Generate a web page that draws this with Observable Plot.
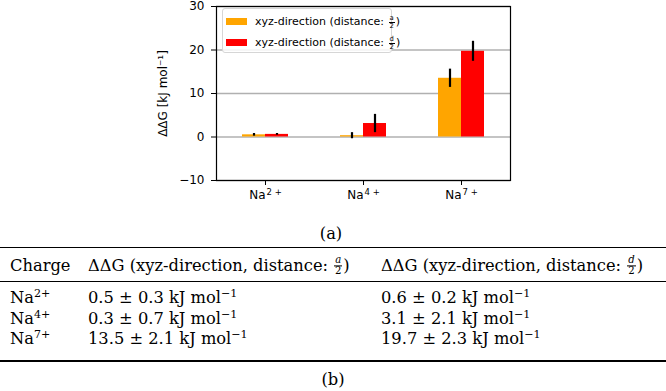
<!DOCTYPE html>
<html>
<head>
<meta charset="utf-8">
<script src="https://cdn.jsdelivr.net/npm/d3@7"></script>
<script src="https://cdn.jsdelivr.net/npm/@observablehq/plot@0.6"></script>
<style>
  html, body { margin: 0; padding: 0; background: #fff; }
  #wrap { position: relative; width: 666px; height: 391px; overflow: hidden; }
  #chart { position: absolute; left: 0; top: 0; }
  .legend { position: absolute; left: 222px; top: 8px; width: 170px; height: 45px; box-sizing: border-box;
    border: 1px solid #d6d6d6; border-radius: 3px; background: rgba(255,255,255,0.85);
    font-family: "DejaVu Sans", sans-serif; font-size: 11px; color: #000; }
  .legend .item { position: absolute; left: 3px; height: 14px; line-height: 14px; white-space: nowrap; }
  .legend .sw { display: inline-block; width: 21px; height: 7px; margin-right: 8px; vertical-align: middle; position: relative; top: -1px; }
  .sfrac { display: inline-flex; flex-direction: column; align-items: center; vertical-align: middle; font-size: 0.62em; line-height: 1; margin: 0 1px; }
  .sfrac .n { border-bottom: 0.5px solid currentColor; padding: 0 1px; }
  .serif { font-family: "DejaVu Serif", serif; font-size: 16.3px; color: #000; }
  .cap { position: absolute; transform: translate(-50%, -50%); white-space: nowrap; line-height: 1.2; }
  .cell { position: absolute; transform: translateY(-50%); white-space: nowrap; line-height: 1; }
  .rule { position: absolute; left: 0; width: 666px; background: #000; }
  sup { font-size: 0.68em; vertical-align: 0.55em; line-height: 0; }
</style>
</head>
<body>
<div id="wrap"></div>
<script>
// ---- data ----
const categories = ["Na²⁺", "Na⁴⁺", "Na⁷⁺"];
const categoryBase = "Na";
const categorySup = ["2+", "4+", "7+"];
const seriesKeys = ["a", "d"];
const seriesLabel = "xyz-direction (distance:&nbsp;";
const valuesA = [0.5, 0.3, 13.5];
const errorsA = [0.3, 0.7, 2.1];
const valuesD = [0.6, 3.1, 19.7];
const errorsD = [0.2, 2.1, 2.3];
const seriesColors = ["#ffa500", "#ff0000"];
const yTicks = [-10, 0, 10, 20, 30];
const yLabel = "ΔΔG [kJ mol⁻¹]";
const headerCharge = "Charge";
const headerPrefix = "ΔΔG (xyz-direction, distance: ";
const unitHtml = "kJ mol<sup>−1</sup>";

const rows = categories.flatMap((c, i) => [
  {cat: c, s: "a", v: valuesA[i], e: errorsA[i]},
  {cat: c, s: "d", v: valuesD[i], e: errorsD[i]}
]);

const wrap = document.getElementById("wrap");

const chart = Plot.plot({
  width: 666,
  height: 205,
  marginLeft: 216,
  marginRight: 156,
  marginTop: 6,
  marginBottom: 25,
  style: {fontFamily: "DejaVu Sans, sans-serif", fontSize: "12px", color: "#000", background: "transparent", overflow: "visible"},
  fx: {domain: categories, padding: 0, label: null},
  x: {domain: seriesKeys, paddingInner: 0, paddingOuter: 1.0417, axis: null},
  y: {domain: [-10, 30]},
  color: {domain: seriesKeys, range: seriesColors},
  marks: [
    Plot.gridY(yTicks, {stroke: "#b0b0b0", strokeOpacity: 1, strokeWidth: 1.3}),
    Plot.barY(rows, {fx: "cat", x: "s", y: "v", fill: "s"}),
    Plot.ruleX(rows, {fx: "cat", x: "s", y1: d => d.v - d.e, y2: d => d.v + d.e, stroke: "#000", strokeWidth: 2.2}),
    Plot.axisY({ticks: yTicks, tickSize: 5, tickPadding: 7, fontSize: 12, label: yLabel, labelAnchor: "center", labelArrow: "none", labelOffset: 58}),
    Plot.axisFx({anchor: "bottom", tickSize: 5, tickPadding: 5, fontSize: 12, label: null}),
    Plot.frame({facet: "super", stroke: "#000", strokeWidth: 1.2})
  ]
});
chart.id = "chart";
wrap.appendChild(chart);

// render the charge labels with a real raised superscript
d3.select(chart).selectAll("g[aria-label='fx-axis tick label'] text").each(function(d, i) {
  const t = d3.select(this);
  const idx = categories.indexOf(this.textContent);
  const k = idx >= 0 ? idx : i;
  t.text(null);
  t.append("tspan").text(categoryBase);
  t.append("tspan").attr("dy", "-0.42em").attr("font-size", "8.5px").attr("dx", "1").text(categorySup[k].split("").join(" "));
});

// legend (inside the axes, top-left)
const legend = document.createElement("div");
legend.className = "legend";
seriesKeys.forEach((k, i) => {
  const it = document.createElement("div");
  it.className = "item";
  it.style.top = (6 + i * 21) + "px";
  it.innerHTML = `<span class="sw" style="background:${seriesColors[i]}"></span>${seriesLabel}<span class="sfrac"><span class="n">${k}</span><span>2</span></span>)`;
  legend.appendChild(it);
});
wrap.appendChild(legend);

// captions and table
function add(cls, html, left, top) {
  const el = document.createElement("div");
  el.className = cls + " serif";
  el.innerHTML = html;
  el.style.left = left + "px";
  el.style.top = top + "px";
  wrap.appendChild(el);
  return el;
}
function rule(top, h) {
  const el = document.createElement("div");
  el.className = "rule";
  el.style.top = top + "px";
  el.style.height = h + "px";
  wrap.appendChild(el);
}
add("cap", "(a)", 331, 234);
rule(246.5, 1.6);
const frac = k => `<span class="sfrac"><span class="n"><i>${k}</i></span><span>2</span></span>`;
add("cell", headerCharge, 10, 266);
add("cell", headerPrefix + frac("a") + ")", 88, 266);
add("cell", headerPrefix + frac("d") + ")", 381, 266);
rule(281, 1);
const rowY = [298, 318.5, 339];
categories.forEach((c, i) => {
  add("cell", `${categoryBase}<sup>${categorySup[i]}</sup>`, 10, rowY[i]);
  add("cell", `${valuesA[i].toFixed(1)} ± ${errorsA[i].toFixed(1)} ${unitHtml}`, 88, rowY[i]);
  add("cell", `${valuesD[i].toFixed(1)} ± ${errorsD[i].toFixed(1)} ${unitHtml}`, 381, rowY[i]);
});
rule(360, 1.6);
add("cap", "(b)", 333, 380);
</script>
</body>
</html>
